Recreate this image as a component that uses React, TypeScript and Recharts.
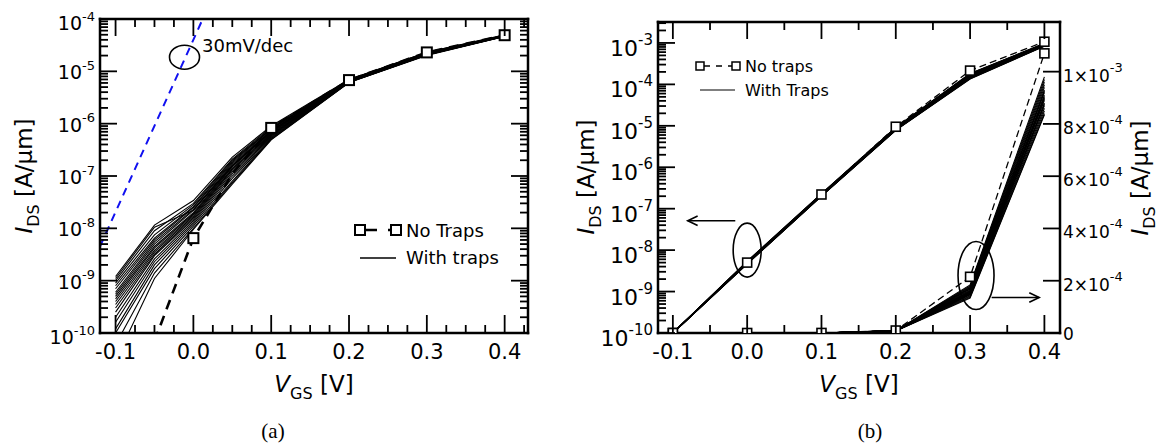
import { ComposedChart, Line, XAxis, YAxis, ReferenceDot, ReferenceLine, Customized } from "recharts";

const FONT = "'DejaVu Sans', 'Liberation Sans', Arial, sans-serif";
const SERIF = "'Liberation Serif', 'DejaVu Serif', serif";

// ---------- panel (a): log I-V, many trap configurations ----------
const vgsA = [-0.1, -0.05, 0, 0.05, 0.1, 0.2, 0.3, 0.4];
const noTrapsVgsA = [-0.05, 0, 0.05, 0.1, 0.2, 0.3, 0.4];
const noTrapsA = [7e-11, 6.5e-9, 1.1e-7, 8.3e-7, 6.8e-6, 2.3e-5, 4.9e-5];
const squaresAtA = [0, 0.1, 0.2, 0.3, 0.4];
const slopeVgs = [-0.12, 0.012];
const slopeIds = [4.5e-9, 1.0e-4];
const withTrapsA = [
  [1.2e-9, 1.15e-8, 3.4e-8, 2.3e-7, 9.0e-7, 7.0e-6, 2.3e-5, 5.0e-5],
  [1.1e-9, 1.05e-8, 2.2e-8, 1.6e-7, 7.2e-7, 6.7e-6, 2.2e-5, 4.8e-5],
  [1.0e-9, 9.0e-9, 3.0e-8, 2.1e-7, 8.6e-7, 6.9e-6, 2.3e-5, 4.9e-5],
  [9.0e-10, 7.5e-9, 2.8e-8, 2.0e-7, 8.2e-7, 6.9e-6, 2.25e-5, 4.9e-5],
  [8.0e-10, 6.5e-9, 2.6e-8, 1.9e-7, 8.0e-7, 6.8e-6, 2.25e-5, 4.9e-5],
  [7.0e-10, 6.0e-9, 2.5e-8, 1.8e-7, 7.8e-7, 6.8e-6, 2.2e-5, 4.85e-5],
  [6.0e-10, 5.5e-9, 2.3e-8, 1.7e-7, 7.5e-7, 6.7e-6, 2.2e-5, 4.85e-5],
  [5.5e-10, 5.0e-9, 2.2e-8, 1.6e-7, 7.3e-7, 6.7e-6, 2.2e-5, 4.8e-5],
  [5.0e-10, 4.5e-9, 2.0e-8, 1.55e-7, 7.0e-7, 6.6e-6, 2.2e-5, 4.8e-5],
  [4.5e-10, 4.2e-9, 1.9e-8, 1.5e-7, 6.8e-7, 6.6e-6, 2.15e-5, 4.8e-5],
  [4.0e-10, 3.8e-9, 1.8e-8, 1.4e-7, 6.6e-7, 6.5e-6, 2.15e-5, 4.8e-5],
  [3.5e-10, 3.5e-9, 1.7e-8, 1.35e-7, 6.4e-7, 6.5e-6, 2.15e-5, 4.75e-5],
  [3.0e-10, 3.2e-9, 1.6e-8, 1.3e-7, 6.2e-7, 6.4e-6, 2.1e-5, 4.75e-5],
  [2.5e-10, 3.0e-9, 1.5e-8, 1.2e-7, 6.0e-7, 6.4e-6, 2.1e-5, 4.75e-5],
  [2.0e-10, 2.6e-9, 1.4e-8, 1.1e-7, 5.8e-7, 6.3e-6, 2.1e-5, 4.7e-5],
  [1.6e-10, 2.3e-9, 1.3e-8, 1.0e-7, 5.6e-7, 6.3e-6, 2.1e-5, 4.7e-5],
  [1.2e-10, 2.0e-9, 1.2e-8, 9.0e-8, 5.4e-7, 6.2e-6, 2.05e-5, 4.7e-5],
  [1.0e-10, 1.7e-9, 1.1e-8, 8.0e-8, 5.2e-7, 6.2e-6, 2.05e-5, 4.7e-5],
  [6.0e-11, 1.4e-9, 1.0e-8, 7.5e-8, 5.0e-7, 6.1e-6, 2.05e-5, 4.65e-5],
  [3.0e-11, 1.1e-9, 9.5e-9, 7.0e-8, 4.9e-7, 6.1e-6, 2.0e-5, 4.65e-5],
];
const slopeMarkA = { x: -0.0114, y: 1.86e-5 };

// ---------- panel (b): log (left) and linear (right) ----------
const vgsB = [-0.1, 0, 0.1, 0.2, 0.3, 0.4];
const noTrapsB = [1e-10, 5e-9, 2.2e-7, 9.5e-6, 2.15e-4, 1.07e-3];
const withTrapsB = [
  [1e-10, 5.4e-9, 2.3e-7, 9.2e-6, 1.84e-4, 9.8e-4],
  [1e-10, 5.3e-9, 2.28e-7, 9.1e-6, 1.8e-4, 9.7e-4],
  [1e-10, 5.3e-9, 2.26e-7, 9.0e-6, 1.77e-4, 9.6e-4],
  [1e-10, 5.2e-9, 2.24e-7, 8.9e-6, 1.74e-4, 9.5e-4],
  [1e-10, 5.2e-9, 2.22e-7, 8.8e-6, 1.71e-4, 9.4e-4],
  [1e-10, 5.1e-9, 2.2e-7, 8.7e-6, 1.68e-4, 9.3e-4],
  [1e-10, 5.1e-9, 2.18e-7, 8.6e-6, 1.65e-4, 9.25e-4],
  [1e-10, 5.0e-9, 2.16e-7, 8.5e-6, 1.62e-4, 9.2e-4],
  [1e-10, 5.0e-9, 2.14e-7, 8.45e-6, 1.6e-4, 9.1e-4],
  [1e-10, 4.95e-9, 2.12e-7, 8.4e-6, 1.58e-4, 9.05e-4],
  [1e-10, 4.9e-9, 2.1e-7, 8.3e-6, 1.56e-4, 9.0e-4],
  [1e-10, 4.9e-9, 2.09e-7, 8.25e-6, 1.54e-4, 8.95e-4],
  [1e-10, 4.85e-9, 2.08e-7, 8.2e-6, 1.52e-4, 8.9e-4],
  [1e-10, 4.8e-9, 2.07e-7, 8.15e-6, 1.5e-4, 8.8e-4],
  [1e-10, 4.8e-9, 2.06e-7, 8.1e-6, 1.48e-4, 8.75e-4],
  [1e-10, 4.75e-9, 2.05e-7, 8.05e-6, 1.46e-4, 8.7e-4],
  [1e-10, 4.7e-9, 2.04e-7, 8.0e-6, 1.43e-4, 8.6e-4],
  [1e-10, 4.7e-9, 2.03e-7, 7.9e-6, 1.4e-4, 8.5e-4],
  [1e-10, 4.65e-9, 2.02e-7, 7.85e-6, 1.37e-4, 8.4e-4],
  [1e-10, 4.6e-9, 2.0e-7, 7.8e-6, 1.34e-4, 8.35e-4],
];
const logMarkB = { x: 0, y: 1e-8 };
const logArrowB = [{ x: -0.016, y: 5.1e-8 }, { x: -0.08, y: 5.1e-8 }];
const linMarkB = { x: 0.308, y: 2.2e-4 };
const linArrowB = [{ x: 0.329, y: 1.36e-4 }, { x: 0.393, y: 1.36e-4 }];

// ---------- ticks ----------
const xTicksA = [-0.1, -0.075, -0.05, -0.025, 0, 0.025, 0.05, 0.075, 0.1, 0.125, 0.15, 0.175, 0.2, 0.225, 0.25, 0.275, 0.3, 0.325, 0.35, 0.375, 0.4, 0.425];
const xTicksB = [-0.1, -0.05, 0, 0.05, 0.1, 0.15, 0.2, 0.25, 0.3, 0.35, 0.4];
const decadesA = [-10, -9, -8, -7, -6, -5, -4];
const decadesB = [-10, -9, -8, -7, -6, -5, -4, -3];
const mantissas = [1, 2, 3, 4, 5, 6, 7, 8, 9];
const linTicksB = [0, 2e-4, 4e-4, 6e-4, 8e-4, 1e-3];

const logTicks = (decades: number[], max: number) =>
  decades.flatMap((d) => mantissas.map((m) => m * Math.pow(10, d))).filter((v) => v <= max * 1.0001);
const logTicksA = logTicks(decadesA, 1e-4);
const logTicksB = logTicks(decadesB, 3.2e-3);

const pts = (xs: number[], ys: number[]) => xs.map((x, i) => ({ x, y: ys[i] }));
const isMajorX = (v: number) => Math.abs(v * 10 - Math.round(v * 10)) < 1e-6;
const isDecade = (v: number) => {
  const l = Math.log10(v);
  return Math.abs(l - Math.round(l)) < 1e-6;
};

const axisStyle = { stroke: "#000", strokeWidth: 2.5, strokeLinecap: "square" as const };
const tickStroke = { stroke: "#000", strokeWidth: 1.8 };

const XTickBottom = ({ x, y, payload }: any) => {
  const v = payload.value;
  const major = isMajorX(v);
  return (
    <g>
      <line x1={x} y1={y} x2={x} y2={y - (major ? 18 : 8)} {...tickStroke} />
      {major && (
        <text x={x} y={y + 26} textAnchor="middle" fontSize={21} fontFamily={FONT} fill="#000">
          {v.toFixed(1)}
        </text>
      )}
    </g>
  );
};

const XTickTop = ({ x, y, payload }: any) => {
  const major = isMajorX(payload.value);
  return <line x1={x} y1={y} x2={x} y2={y + (major ? 17 : 8)} {...tickStroke} />;
};

const makeLogLeft = (fs: number, sup: number, dy: (v: number) => number, gap: number) => ({ x, y, payload }: any) => {
  const v = payload.value;
  const dec = isDecade(v);
  return (
    <g>
      <line x1={x} y1={y} x2={x + (dec ? 17 : 8)} y2={y} {...tickStroke} />
      {dec && (
        <text x={x - gap} y={y + dy(v)} textAnchor="end" fontSize={fs} fontFamily={FONT} fill="#000">
          10
          <tspan fontSize={sup} dy={-fs * 0.5}>{Math.round(Math.log10(v))}</tspan>
        </text>
      )}
    </g>
  );
};
const LogTickLeftA = makeLogLeft(19, 13, (v) => (v < 2e-10 || v > 5e-5 ? 11 : 8), 5);
const LogTickLeftB = makeLogLeft(22, 15, () => 13, 5);

const LogTickRight = ({ x, y, payload }: any) => {
  const dec = isDecade(payload.value);
  return <line x1={x} y1={y} x2={x - (dec ? 17 : 8)} y2={y} {...tickStroke} />;
};

const LinTickRight = ({ x, y, payload }: any) => {
  const v = payload.value;
  const exp = v > 0 ? Math.floor(Math.log10(v) + 1e-9) : 0;
  const mant = v > 0 ? Math.round(v / Math.pow(10, exp)) : 0;
  return (
    <g>
      <line x1={x} y1={y} x2={x - 17} y2={y} {...tickStroke} />
      <text x={x + 3} y={y + (v === 0 ? 7 : 10)} fontSize={17} fontFamily={FONT} fill="#000">
        {v === 0 ? "0" : `${mant}×10`}
        {v !== 0 && <tspan fontSize={13} dy={-10}>{exp}</tspan>}
      </text>
    </g>
  );
};

const squareDot = (size: number, sw: number, only?: number[]) => (p: any) => {
  const { cx, cy, payload, index } = p;
  if (only && !only.some((v) => Math.abs(v - payload.x) < 1e-9)) return <g key={index} />;
  return <rect key={index} x={cx - size / 2} y={cy - size / 2} width={size} height={size} fill="#fff" stroke="#000" strokeWidth={sw} />;
};

const ellipseShape = (rx: number, ry: number) => (p: any) => (
  <ellipse cx={p.cx} cy={p.cy} rx={rx} ry={ry} fill="none" stroke="#000" strokeWidth={1.6} />
);

const arrowShape = (p: any) => {
  const { x1, y1, x2, y2 } = p;
  const a = Math.atan2(y2 - y1, x2 - x1);
  const L = 11;
  const h1 = { x: x2 - L * Math.cos(a - 0.45), y: y2 - L * Math.sin(a - 0.45) };
  const h2 = { x: x2 - L * Math.cos(a + 0.45), y: y2 - L * Math.sin(a + 0.45) };
  return (
    <g stroke="#000" strokeWidth={1.6} fill="none">
      <line x1={x1} y1={y1} x2={x2} y2={y2} />
      <polyline points={`${h1.x},${h1.y} ${x2},${y2} ${h2.x},${h2.y}`} />
    </g>
  );
};

const IdsTitle = ({ x, y }: { x: number; y: number }) => (
  <text transform={`translate(${x},${y}) rotate(-90)`} textAnchor="middle" fontFamily={FONT} fontSize={23} fill="#000">
    <tspan fontStyle="italic">I</tspan>
    <tspan fontSize={16} dy={7}>DS</tspan>
    <tspan dy={-7}> [A/μm]</tspan>
  </text>
);

const VgsTitle = ({ x, y }: { x: number; y: number }) => (
  <text x={x} y={y} textAnchor="middle" fontFamily={FONT} fontSize={23} fill="#000">
    <tspan fontStyle="italic">V</tspan>
    <tspan fontSize={16} dy={7}>GS</tspan>
    <tspan dy={-7}> [V]</tspan>
  </text>
);

const OverlayA = () => (
  <g>
    <text x={202} y={52} fontFamily={FONT} fontSize={18} fill="#000">30mV/dec</text>
    <line x1={364} y1={230} x2={391} y2={230} stroke="#000" strokeWidth={2.6} strokeDasharray="13 11" />
    <rect x={355} y={225} width={10} height={10} fill="#fff" stroke="#000" strokeWidth={2} />
    <rect x={391} y={225} width={10} height={10} fill="#fff" stroke="#000" strokeWidth={2} />
    <text x={406} y={237} fontFamily={FONT} fontSize={18} fill="#000">No Traps</text>
    <line x1={360} y1={258} x2={396} y2={258} stroke="#000" strokeWidth={1.3} />
    <text x={406} y={264} fontFamily={FONT} fontSize={18} fill="#000">With traps</text>
    <IdsTitle x={32} y={176} />
    <VgsTitle x={314} y={392} />
    <text x={273} y={438} textAnchor="middle" fontFamily={SERIF} fontSize={21} fill="#000">(a)</text>
  </g>
);

const OverlayB = () => (
  <g>
    <line x1={134} y1={66} x2={162} y2={66} stroke="#000" strokeWidth={1.4} strokeDasharray="6 6" />
    <rect x={126} y={62} width={8} height={8} fill="#fff" stroke="#000" strokeWidth={1.5} />
    <rect x={162} y={62} width={8} height={8} fill="#fff" stroke="#000" strokeWidth={1.5} />
    <text x={175} y={72} fontFamily={FONT} fontSize={16} fill="#000">No traps</text>
    <line x1={130} y1={90} x2={165} y2={90} stroke="#000" strokeWidth={1.2} />
    <text x={175} y={96} fontFamily={FONT} fontSize={16} fill="#000">With Traps</text>
    <IdsTitle x={24} y={177} />
    <IdsTitle x={578} y={178} />
    <VgsTitle x={289} y={392} />
    <text x={300} y={438} textAnchor="middle" fontFamily={SERIF} fontSize={21} fill="#000">(b)</text>
  </g>
);

function PanelA() {
  const noTraps = pts(noTrapsVgsA, noTrapsA);
  return (
    <ComposedChart width={570} height={447} margin={{ top: 18, right: 41, bottom: 74, left: 40 }}>
      <XAxis xAxisId="bottom" type="number" dataKey="x" domain={[-0.12, 0.43]} allowDataOverflow ticks={xTicksA} interval={0}
        tickSize={0} tickMargin={0} tickLine={false} tick={XTickBottom} height={40} axisLine={axisStyle} />
      <XAxis xAxisId="top" orientation="top" type="number" dataKey="x" domain={[-0.12, 0.43]} allowDataOverflow ticks={xTicksA} interval={0}
        tickSize={0} tickMargin={0} tickLine={false} tick={XTickTop} height={1} axisLine={axisStyle} />
      <YAxis yAxisId="left" type="number" scale="log" domain={[1e-10, 1e-4]} allowDataOverflow ticks={logTicksA} interval={0}
        tickSize={0} tickMargin={0} tickLine={false} tick={LogTickLeftA} width={60} axisLine={axisStyle} />
      <YAxis yAxisId="right" orientation="right" type="number" scale="log" domain={[1e-10, 1e-4]} allowDataOverflow ticks={logTicksA} interval={0}
        tickSize={0} tickMargin={0} tickLine={false} tick={LogTickRight} width={1} axisLine={axisStyle} />
      <Line data={noTraps} dataKey="y" xAxisId="top" yAxisId="right" stroke="none" dot={false} activeDot={false} isAnimationActive={false} />
      <Line data={pts(slopeVgs, slopeIds)} dataKey="y" xAxisId="bottom" yAxisId="left" stroke="#1010f0" strokeWidth={2}
        strokeDasharray="8 6" dot={false} activeDot={false} isAnimationActive={false} />
      {withTrapsA.map((row, i) => (
        <Line key={i} data={pts(vgsA, row)} dataKey="y" xAxisId="bottom" yAxisId="left" stroke="#000" strokeWidth={1.1}
          dot={false} activeDot={false} isAnimationActive={false} />
      ))}
      <Line data={noTraps} dataKey="y" xAxisId="bottom" yAxisId="left" stroke="#000" strokeWidth={2.6} strokeDasharray="10 7"
        dot={squareDot(10, 2, squaresAtA)} activeDot={false} isAnimationActive={false} />
      <ReferenceDot x={slopeMarkA.x} y={slopeMarkA.y} xAxisId="bottom" yAxisId="left" r={1} ifOverflow="visible" shape={ellipseShape(15, 12)} />
      <Customized component={<OverlayA />} />
    </ComposedChart>
  );
}

function PanelB() {
  const noTraps = pts(vgsB, noTrapsB);
  return (
    <ComposedChart width={595} height={447} margin={{ top: 21, right: 25, bottom: 74, left: 28 }}>
      <XAxis xAxisId="bottom" type="number" dataKey="x" domain={[-0.12, 0.421]} allowDataOverflow ticks={xTicksB} interval={0}
        tickSize={0} tickMargin={0} tickLine={false} tick={XTickBottom} height={40} axisLine={axisStyle} />
      <XAxis xAxisId="top" orientation="top" type="number" dataKey="x" domain={[-0.12, 0.421]} allowDataOverflow ticks={xTicksB} interval={0}
        tickSize={0} tickMargin={0} tickLine={false} tick={XTickTop} height={1} axisLine={axisStyle} />
      <YAxis yAxisId="log" type="number" scale="log" domain={[1e-10, 3.2e-3]} allowDataOverflow ticks={logTicksB} interval={0}
        tickSize={0} tickMargin={0} tickLine={false} tick={LogTickLeftB} width={60} axisLine={axisStyle} />
      <YAxis yAxisId="lin" orientation="right" type="number" domain={[0, 1.19e-3]} allowDataOverflow ticks={linTicksB} interval={0}
        tickSize={0} tickMargin={0} tickLine={false} tick={LinTickRight} width={80} axisLine={axisStyle} />
      <Line data={noTraps} dataKey="y" xAxisId="top" yAxisId="lin" stroke="none" dot={false} activeDot={false} isAnimationActive={false} />
      {withTrapsB.map((row, i) => (
        <Line key={`l${i}`} data={pts(vgsB, row)} dataKey="y" xAxisId="bottom" yAxisId="log" stroke="#000" strokeWidth={1.1}
          dot={false} activeDot={false} isAnimationActive={false} />
      ))}
      {withTrapsB.map((row, i) => (
        <Line key={`r${i}`} data={pts(vgsB, row)} dataKey="y" xAxisId="bottom" yAxisId="lin" stroke="#000" strokeWidth={1.1}
          dot={false} activeDot={false} isAnimationActive={false} />
      ))}
      <Line data={noTraps} dataKey="y" xAxisId="bottom" yAxisId="log" stroke="#000" strokeWidth={1.3} strokeDasharray="7 4"
        dot={squareDot(9, 1.6)} activeDot={false} isAnimationActive={false} />
      <Line data={noTraps} dataKey="y" xAxisId="bottom" yAxisId="lin" stroke="#000" strokeWidth={1.3} strokeDasharray="7 4"
        dot={squareDot(9, 1.6)} activeDot={false} isAnimationActive={false} />
      <ReferenceDot x={logMarkB.x} y={logMarkB.y} xAxisId="bottom" yAxisId="log" r={1} ifOverflow="visible" shape={ellipseShape(14, 27)} />
      <ReferenceDot x={linMarkB.x} y={linMarkB.y} xAxisId="bottom" yAxisId="lin" r={1} ifOverflow="visible" shape={ellipseShape(18, 34)} />
      <ReferenceLine segment={logArrowB} xAxisId="bottom" yAxisId="log" ifOverflow="visible" shape={arrowShape} />
      <ReferenceLine segment={linArrowB} xAxisId="bottom" yAxisId="lin" ifOverflow="visible" shape={arrowShape} />
      <Customized component={<OverlayB />} />
    </ComposedChart>
  );
}

export default function App() {
  return (
    <div style={{ position: "absolute", left: 0, top: 0, width: 1165, height: 447, background: "#fff" }}>
      <div style={{ position: "absolute", left: 0, top: 0 }}>
        <PanelA />
      </div>
      <div style={{ position: "absolute", left: 570, top: 0 }}>
        <PanelB />
      </div>
    </div>
  );
}
